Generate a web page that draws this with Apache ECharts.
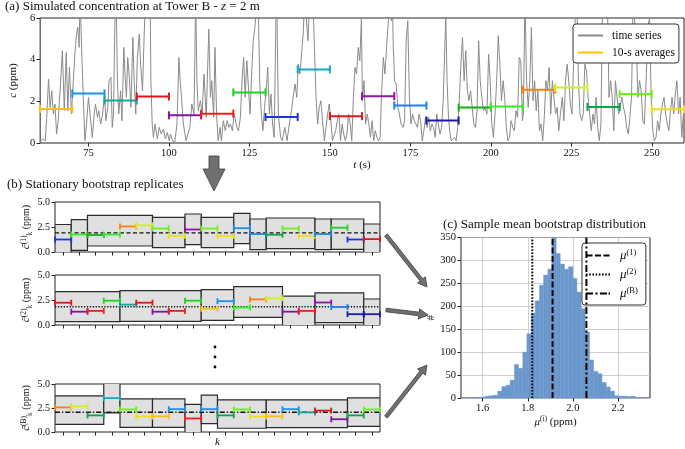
<!DOCTYPE html>
<html><head><meta charset="utf-8">
<script src="https://cdn.jsdelivr.net/npm/echarts@6/dist/echarts.min.js"></script>
<style>html,body{margin:0;padding:0;background:#fff}#c{width:685px;height:449px}</style>
</head><body><div id="c"></div>
<script>
// ---------- DATA ----------
const tsTime = [
60.0,60.8,61.6,62.1,62.6,63.1,63.6,64.1,64.6,65.1,
65.6,66.3,66.9,67.5,68.1,68.6,69.1,69.7,70.3,70.9,
71.3,71.7,72.1,72.4,73.0,73.4,73.9,74.4,75.0,75.6,
76.2,76.8,77.2,77.8,78.2,78.8,79.4,80.0,80.4,81.0,
81.4,82.0,82.4,82.8,83.2,83.6,84.0,84.4,85.0,85.4,
86.0,86.4,86.8,87.2,87.7,88.2,88.8,89.2,89.7,90.2,
90.8,91.2,91.8,92.2,92.7,93.2,93.7,94.2,94.4,94.8,
95.2,95.7,96.4,97.0,97.6,98.3,98.9,99.5,100.1,100.5,
101.1,101.8,102.5,103.1,103.5,103.9,104.5,105.3,105.9,106.5,
107.1,107.8,108.3,108.7,109.1,109.8,
110.3,110.9,111.6,112.1,112.4,112.9,113.3,113.9,114.3,114.8,
115.3,115.9,116.3,116.9,117.5,118.1,118.6,119.1,119.7,120.3,
121.1,121.6,122.2,122.7,123.2,123.7,124.2,124.7,125.2,125.7,
126.2,126.7,127.2,127.7,128.2,128.7,129.2,129.7,130.2,130.7,
131.2,131.7,132.2,132.7,133.2,133.5,134.0,134.7,135.2,136.0,
136.7,137.4,138.2,138.7,139.2,139.7,140.2,140.7,141.2,141.7,
142.2,142.7,143.2,143.7,144.2,144.7,145.2,145.7,146.2,146.7,
147.2,147.7,148.3,148.8,149.3,149.8,150.3,150.8,151.3,151.8,
152.3,152.8,153.3,153.8,154.3,154.8,155.3,155.8,156.3,156.8,
157.3,157.8,158.3,158.8,159.3,159.8,
160.1,160.6,161.1,161.6,162.1,162.6,163.1,163.6,164.1,164.6,
165.1,165.6,166.1,166.6,167.1,167.6,168.1,168.6,169.1,169.4,
169.7,170.1,170.6,171.1,171.6,172.1,172.7,173.2,173.7,174.2,
174.7,175.2,175.7,176.2,176.7,177.2,177.7,178.2,178.7,179.2,
179.7,180.2,180.7,181.2,181.7,182.2,182.7,183.2,183.7,184.2,
184.7,185.2,185.7,186.0,186.4,186.8,187.2,187.7,188.2,188.7,
189.2,189.7,190.2,190.7,191.2,191.7,192.2,192.7,193.2,193.7,
194.2,194.7,195.2,195.7,196.2,196.7,197.2,197.7,198.2,198.8,
199.3,199.8,200.3,200.8,201.3,201.8,202.3,202.8,203.3,203.8,
204.3,204.8,205.3,205.8,206.3,206.8,207.3,207.8,208.3,208.8,
209.3,209.8,
210.1,210.6,211.1,211.6,212.1,212.6,213.1,213.6,214.1,214.6,
215.1,215.6,216.1,216.6,217.1,217.6,218.1,218.6,219.1,219.6,
220.1,220.6,221.1,221.6,222.2,222.7,223.2,223.7,224.2,224.7,
225.2,225.7,226.2,226.7,227.2,227.7,228.2,228.7,229.2,229.7,
230.2,230.7,231.2,231.7,232.2,232.7,233.2,233.7,234.2,234.7,
235.2,235.7,236.2,236.7,237.2,237.7,238.2,238.7,239.2,239.7,
240.2,240.7,241.2,241.7,242.2,242.7,243.2,243.7,244.2,244.7,
245.2,245.7,246.2,246.7,247.2,247.7,248.3,248.8,249.3,249.8,
250.3,250.8,251.3,251.8,252.3,252.8,253.3,253.8,254.3,254.8,
255.3,255.8,256.3,256.8,257.3,257.8,258.3,258.8,259.3,259.8
];
const tsConc = [
0.05,0.2,0.11,1.39,3.07,1.71,2.51,1.39,1.87,0.43,
1.07,2.75,4.43,1.55,4.35,1.55,3.63,1.39,2.99,4.51,
5.23,5.55,4.59,7.0,3.95,2.19,0.11,0.91,2.19,1.23,
0.27,1.39,1.87,1.23,1.55,0.91,1.39,2.35,1.07,1.71,
2.99,3.15,0.75,1.39,5.71,7.0,2.99,1.39,2.51,1.07,
4.59,3.15,2.19,4.11,3.15,1.71,5.07,2.99,1.39,4.11,
5.23,3.79,2.51,4.59,7.0,7.0,7.0,6.5,2.99,0.91,
0.27,0.91,0.19,0.75,0.43,0.67,0.19,0.51,0.11,0.43,
0.11,0.03,0.91,4.11,2.99,2.19,0.91,0.11,0.11,0.75,
1.87,1.39,7.0,2.99,1.55,2.03,
1.39,3.31,1.23,3.95,5.47,2.19,2.99,1.23,4.59,1.39,
0.11,0.75,0.11,1.07,0.59,1.07,0.75,0.91,0.59,1.39,
0.75,0.59,1.23,2.99,4.11,2.19,3.95,2.67,1.39,3.31,
4.91,5.55,6.5,7.0,2.99,1.39,0.59,1.71,2.51,3.63,
1.39,2.35,0.91,0.27,5.71,7.0,1.39,0.27,0.11,0.75,
0.11,0.91,1.71,2.35,2.83,2.19,3.79,3.31,4.27,5.23,
7.0,7.0,4.91,7.0,7.0,7.0,4.59,2.19,0.91,1.71,
2.03,1.07,0.11,0.11,1.39,1.87,1.07,0.11,0.11,0.59,
1.07,1.39,0.11,0.91,0.43,0.11,0.43,1.39,0.91,0.11,
2.19,3.63,3.31,4.59,3.95,6.0,
2.03,2.99,0.91,1.39,0.91,0.27,1.07,0.11,0.59,0.27,
0.11,0.27,2.51,4.11,3.31,4.59,5.71,7.0,5.87,7.0,
4.59,2.99,2.83,1.71,1.39,0.91,0.75,1.07,4.91,5.87,
2.19,0.91,1.39,1.07,0.91,0.75,1.39,1.07,0.11,0.59,
1.23,0.75,1.23,0.59,0.91,0.75,0.27,1.39,0.91,0.43,
0.75,2.03,4.59,6.03,2.99,1.39,0.59,0.11,0.11,0.27,
0.11,0.75,2.03,3.79,5.07,2.99,4.43,2.51,2.03,2.51,
1.71,0.91,0.75,1.55,4.91,2.99,2.19,1.55,1.71,1.39,
4.27,2.99,0.91,0.27,1.39,2.99,5.15,3.79,2.03,2.99,
2.19,0.75,0.11,0.27,1.07,0.75,0.59,1.55,1.23,4.11,
3.95,1.07,
1.39,7.0,2.99,1.71,2.99,5.55,2.03,2.99,1.55,2.51,
0.59,0.91,0.11,1.23,2.99,2.51,3.63,1.39,2.99,2.19,
1.39,1.71,0.59,1.39,2.19,1.07,2.99,3.79,2.99,1.87,
1.39,3.79,6.03,7.0,2.99,1.39,1.07,1.39,3.79,3.47,
2.19,1.39,0.59,1.39,0.91,2.19,0.75,0.11,0.91,7.0,
7.0,6.03,7.0,2.19,2.99,2.19,0.59,2.99,2.19,1.39,
1.39,2.19,1.71,1.39,0.75,0.43,1.23,2.19,7.0,7.0,
4.59,2.19,2.99,2.51,1.07,0.91,3.31,5.55,6.03,2.19,
0.59,0.11,0.27,1.07,0.59,1.39,1.87,2.19,1.39,0.91,
0.59,1.55,2.19,1.39,2.35,2.99,1.39,2.19,0.27,1.39
];
const timeTicks = [75,100,125,150,175,200,225,250];

// 10-s window averages
const winStart = [60,70,80,90,100,110,120,130,140,150,160,170,180,190,200,210,220,230,240,250];
const winLength = 10;
const winMean = [1.63,2.38,2.04,2.23,1.33,1.41,2.43,1.25,3.53,1.29,2.25,1.80,1.08,1.70,1.75,2.56,2.67,1.73,2.35,1.62];

// bootstrap replicates: which window fills each of the 20 slots
const rep1Windows = [7,14,13,14,15,16,18,19,10,18,19,1,11,17,18,19,11,6,7,9];
const rep2Windows = [3,4,5,6,2,3,4,5,6,0,1,14,15,16,4,5,10,11,12,12];
const repBWindows = [15,16,17,8,18,19,0,1,5,1,17,18,19,0,1,2,3,4,17,18];
// blocks: [first slot, end slot, low, high]
const rep1Blocks = [[0,1,-0.28,2.75],[1,2,0.17,3.23],[2,6,0.6,3.67],[6,8,0.43,3.47],[8,9,0.73,3.8],[9,11,0.43,3.47],[11,12,0.83,3.87],[12,13,0.23,3.3],[13,16,0.33,3.4],[16,17,0.23,3.3],[17,19,0.27,3.3],[19,20,-0.23,2.8]];
const rep2Blocks = [[0,4,0.33,3.34],[4,9,0.36,3.44],[9,11,0.46,3.54],[11,14,0.76,3.84],[14,16,-0.16,2.88],[16,19,0.23,3.21],[19,20,-0.45,2.6]];
const repBBlocks = [[0,3,0.8,3.77],[3,4,2.0,5.06],[4,6,0.48,3.45],[6,8,0.48,3.45],[8,9,-0.1,2.87],[9,10,0.87,3.84],[10,13,0.39,3.35],[13,18,0.45,3.35],[18,20,0.58,3.55]];
const slotTicks = [0.5,1.5,2.5,3.5,4.5,5.5,6.5,7.5,8.5,9.5,10.5,11.5,12.5,13.5,14.5,15.5,16.5,17.5,18.5,19.5];
const repMeans = [1.91, 1.82, 2.06];

// histogram of bootstrap means
const histBinLo = [
1.537,1.556,1.574,1.593,1.611,1.630,1.648,1.667,1.685,1.704,
1.722,1.741,1.759,1.778,1.796,1.815,1.833,1.852,1.870,1.889,
1.907,1.926,1.944,1.963,1.981,2.000,2.018,2.037,2.055,2.074,
2.092,2.111,2.129,2.148,2.166,2.185,2.203,2.222,2.240,2.259,
2.277,2.296];
const histCount = [
1,1,0,2,4,5,6,15,25,28,
39,73,65,100,140,185,212,246,268,281,
350,315,292,281,286,261,231,195,144,83,
58,53,34,24,15,5,4,4,3,4,
1,1];
const histTicks = [1.6,1.8,2.0,2.2];

// ---------- STYLES ----------
const winColors = ['#f9c01c','#1f8fe3','#13a89b','#e3151c','#80169f','#f21e1e','#22d022','#1d36d6','#16a8c4','#d81b1b',
                   '#8c16a6','#1f7ff0','#1a1aa6','#16ae18','#33ee1f','#ff7f10','#d6f01e','#13a04b','#6ff01c','#ebdf1c'];
const FONT = "'Liberation Serif','DejaVu Serif',serif";
const INK = '#222';

const seriesTS = tsTime.map((t,i)=>[t, tsConc[i]]);
const winData = winStart.map((s,i)=>[s, s+winLength, winMean[i], i]);
const repData = wins => wins.map((w,k)=>[k, k+1, winMean[w], w]);
const histData = histBinLo.map((lo,i)=>[lo, i<histBinLo.length-1 ? histBinLo[i+1] : lo+(lo-histBinLo[i-1]), histCount[i]]);

function segRender(capHalf, lw){
  return function(params, api){
    const v = api.value(2), ci = api.value(3);
    const p0 = api.coord([api.value(0), v]), p1 = api.coord([api.value(1), v]);
    const st = {stroke: winColors[ci], lineWidth: lw, lineCap:'butt'};
    return {type:'group', children:[
      {type:'line', shape:{x1:p0[0],y1:p0[1],x2:p1[0],y2:p1[1]}, style:st},
      {type:'line', shape:{x1:p0[0],y1:p0[1]-capHalf,x2:p0[0],y2:p0[1]+capHalf}, style:st},
      {type:'line', shape:{x1:p1[0],y1:p1[1]-capHalf,x2:p1[0],y2:p1[1]+capHalf}, style:st}
    ]};
  };
}
function boxRender(params, api){
  const a = api.coord([api.value(0), api.value(3)]);
  const b = api.coord([api.value(1), api.value(2)]);
  return {type:'rect', shape:{x:a[0], y:a[1], width:b[0]-a[0], height:b[1]-a[1]},
          style:{fill:'#e0e0e0', stroke:'#2a2a2a', lineWidth:1.2}};
}
function histRender(params, api){
  const a = api.coord([api.value(0), api.value(2)]);
  const b = api.coord([api.value(1), 0]);
  return {type:'rect', shape:{x:a[0], y:a[1], width:b[0]-a[0], height:b[1]-a[1]},
          style:{fill:'#6a97cc', stroke:'#6a97cc', lineWidth:0.4}};
}

const tick = (vals)=>({show:true, inside:false, length:3.5, lineStyle:{color:INK, width:1}, customValues: vals});
const lab = {fontFamily:FONT, fontSize:10.5, color:'#111'};
const gridBase = {show:true, borderColor:INK, borderWidth:1, backgroundColor:'transparent'};
const supStyle = {fontFamily:FONT, fontSize:7.5, color:'#111', verticalAlign:'top', lineHeight:14};
const subStyle = {fontFamily:FONT, fontSize:7.5, color:'#111', verticalAlign:'bottom', lineHeight:14};
const itStyle = {fontFamily:FONT, fontSize:11, fontStyle:'italic', color:'#111', lineHeight:14};

function bXAxis(gi, withName){
  const ax = {type:'value', gridIndex:gi, min:0, max:20, axisLine:{show:false},
    axisTick: tick(slotTicks), axisLabel:{show:false}, splitLine:{show:false}};
  if (withName){ ax.name='k'; ax.nameLocation='middle'; ax.nameGap=5;
    ax.nameTextStyle={fontFamily:FONT, fontSize:11, fontStyle:'italic', color:'#111', verticalAlign:'top'}; }
  return ax;
}
function bYAxis(gi, sup){
  return {type:'value', gridIndex:gi, min:0, max:5, interval:2.5, axisLine:{show:false},
    axisTick:{show:true, length:3.5, lineStyle:{color:INK}},
    axisLabel:Object.assign({}, lab, {fontSize:10, margin:5, formatter:v=>v.toFixed(1)}), splitLine:{show:false},
    name:'{i|ĉ}{sup|'+sup+'}{sub|k} (ppm)', nameLocation:'middle', nameRotate:90, nameGap:17,
    nameTextStyle:{fontFamily:FONT, fontSize:10, color:'#111', lineHeight:14,
      rich:{i:Object.assign({}, itStyle,{fontSize:11}), sup:supStyle, sub:subStyle}}};
}

function arrowPts(x0,y0,x1,y1,sw,hw,hl){
  const dx=x1-x0, dy=y1-y0, L=Math.hypot(dx,dy), ux=dx/L, uy=dy/L, nx=-uy, ny=ux;
  const bx=x1-ux*hl, by=y1-uy*hl;
  return [[x0+nx*sw/2,y0+ny*sw/2],[bx+nx*sw/2,by+ny*sw/2],[bx+nx*hw/2,by+ny*hw/2],[x1,y1],
          [bx-nx*hw/2,by-ny*hw/2],[bx-nx*sw/2,by-ny*sw/2],[x0-nx*sw/2,y0-ny*sw/2]];
}
const arrowStyle = {fill:'#707070', stroke:'#3c3c3c', lineWidth:0.8};

// legend icons (dash patterns drawn as small filled bars, 24 x 2)
function barsPath(pairs){ return 'path://' + pairs.map(p=>'M'+p[0]+',0h'+(p[1]-p[0])+'v2h'+(p[0]-p[1])+'z').join(''); }
const iconDashed = barsPath([[0,6],[8.5,14.5],[17,23]]);
const iconDotted = barsPath([[0,1.6],[3.2,4.8],[6.4,8],[9.6,11.2],[12.8,14.4],[16,17.6],[19.2,20.8],[22.4,24]]);
const iconDashDot = barsPath([[0,7],[9.5,11.5],[14,21],[22.5,24]]);

const option = {
  animation:false,
  backgroundColor:'#fff',
  title:[
    {text:'(a) Simulated concentration at Tower B - {i|z} = 2 m', left:5, top:0, padding:0,
     textStyle:{fontFamily:FONT, fontSize:13, fontWeight:'normal', color:'#111',
       rich:{i:{fontFamily:FONT, fontSize:13, fontStyle:'italic', color:'#111'}}}},
    {text:'(b) Stationary bootstrap replicates', left:7, top:178, padding:0,
     textStyle:{fontFamily:FONT, fontSize:13, fontWeight:'normal', color:'#111'}},
    {text:'(c) Sample mean bootstrap distribution', left:443, top:218, padding:0,
     textStyle:{fontFamily:FONT, fontSize:13, fontWeight:'normal', color:'#111'}}
  ],
  grid:[
    Object.assign({left:21, top:18, width:663, height:125}, gridBase),
    Object.assign({left:55, top:202, width:325, height:50}, gridBase),
    Object.assign({left:55, top:275, width:325, height:50}, gridBase),
    Object.assign({left:55, top:384, width:325, height:51}, gridBase),
    Object.assign({left:461, top:237.5, width:189, height:160.5}, gridBase)
  ],
  xAxis:[
    {type:'value', gridIndex:0, min:60, max:260, axisLine:{show:false}, axisTick:tick(timeTicks),
     axisLabel:Object.assign({}, lab, {customValues:timeTicks, margin:5}), splitLine:{show:false},
     name:'{i|t} (s)', nameLocation:'middle', nameGap:15,
     nameTextStyle:{fontFamily:FONT, fontSize:11, color:'#111', verticalAlign:'top', rich:{i:itStyle}}},
    bXAxis(1,false), bXAxis(2,false), bXAxis(3,true),
    {type:'value', gridIndex:4, min:1.504, max:2.342, axisLine:{show:false}, axisTick:tick(histTicks),
     axisLabel:Object.assign({}, lab, {customValues:histTicks, margin:5, formatter:v=>v.toFixed(1)}),
     splitLine:{show:true, lineStyle:{color:'#c4c4c4', width:0.8}},
     name:'{i|μ}{sup|(i)} (ppm)', nameLocation:'middle', nameGap:17,
     nameTextStyle:{fontFamily:FONT, fontSize:11, color:'#111', verticalAlign:'top', lineHeight:14,
       rich:{i:itStyle, sup:supStyle}}}
  ],
  yAxis:[
    {type:'value', gridIndex:0, min:0, max:6, interval:2, axisLine:{show:false},
     axisTick:{show:true, length:3.5, lineStyle:{color:INK}},
     axisLabel:Object.assign({}, lab, {margin:5}), splitLine:{show:false},
     name:'{i|c} (ppm)', nameLocation:'middle', nameRotate:90, nameGap:8,
     nameTextStyle:{fontFamily:FONT, fontSize:11, color:'#111', rich:{i:itStyle}}},
    bYAxis(1,'(1)'), bYAxis(2,'(2)'), bYAxis(3,'(B)'),
    {type:'value', gridIndex:4, min:0, max:350, interval:50, axisLine:{show:false},
     axisTick:{show:true, length:3.5, lineStyle:{color:INK}},
     axisLabel:Object.assign({}, lab, {margin:5}),
     splitLine:{show:true, lineStyle:{color:'#c4c4c4', width:0.8}},
     name:'#', nameLocation:'middle', nameRotate:90, nameGap:18,
     nameTextStyle:{fontFamily:FONT, fontSize:11, color:'#111'}}
  ],
  legend:[
    {data:[{name:'time series', icon:'rect'},{name:'10-s averages', icon:'rect'}],
     orient:'vertical', left:573, top:24, itemWidth:25, itemHeight:2, itemGap:4, padding:[5,4,4,5],
     borderColor:'#333', borderWidth:1, borderRadius:3, backgroundColor:'#fff', selectedMode:false,
     textStyle:{fontFamily:FONT, fontSize:11.5, color:'#111', lineHeight:13, padding:[0,0,0,4]}},
    {data:[{name:'mu1', icon:iconDashed},{name:'mu2', icon:iconDotted},{name:'muB', icon:iconDashDot}],
     orient:'vertical', left:582, top:243, itemWidth:24, itemHeight:2, itemGap:5,
     padding:[5,8,5,4], borderColor:'#333', borderWidth:1, borderRadius:3, backgroundColor:'#fff', selectedMode:false,
     formatter:n=>({mu1:'{m|μ}{s|(1)}', mu2:'{m|μ}{s|(2)}', muB:'{m|μ}{s|(B)}'})[n],
     textStyle:{fontFamily:FONT, fontSize:12, color:'#111',
       rich:{m:{fontFamily:FONT, fontSize:13, fontStyle:'italic', color:'#111', lineHeight:15, padding:[0,0,0,5]},
             s:{fontFamily:FONT, fontSize:8.5, color:'#111', verticalAlign:'top', lineHeight:15}}}}
  ],
  series:[
    {type:'line', name:'time series', xAxisIndex:0, yAxisIndex:0, data:seriesTS, showSymbol:false, symbol:'none',
     clip:true, lineStyle:{color:'#8a8a8a', width:1}, itemStyle:{color:'#8a8a8a'}, z:1},
    {type:'custom', name:'10-s averages', xAxisIndex:0, yAxisIndex:0, data:winData, renderItem:segRender(4,2),
     itemStyle:{color:'#ffc107'}, z:3},
    {type:'custom', xAxisIndex:1, yAxisIndex:1, data:rep1Blocks, renderItem:boxRender, clip:true, z:1},
    {type:'custom', xAxisIndex:2, yAxisIndex:2, data:rep2Blocks, renderItem:boxRender, clip:true, z:1},
    {type:'custom', xAxisIndex:3, yAxisIndex:3, data:repBBlocks, renderItem:boxRender, clip:true, z:1},
    {type:'line', xAxisIndex:1, yAxisIndex:1, data:[[0,repMeans[0]],[20,repMeans[0]]], symbol:'none',
     lineStyle:{color:'#111', width:1.4, type:[4,2.5]}, z:2},
    {type:'line', xAxisIndex:2, yAxisIndex:2, data:[[0,repMeans[1]],[20,repMeans[1]]], symbol:'none',
     lineStyle:{color:'#111', width:1.4, type:[1.3,1.6]}, z:2},
    {type:'line', xAxisIndex:3, yAxisIndex:3, data:[[0,repMeans[2]],[20,repMeans[2]]], symbol:'none',
     lineStyle:{color:'#111', width:1.4, type:[5,2,1.3,2]}, z:2},
    {type:'custom', xAxisIndex:1, yAxisIndex:1, data:repData(rep1Windows), renderItem:segRender(3,1.8), z:3},
    {type:'custom', xAxisIndex:2, yAxisIndex:2, data:repData(rep2Windows), renderItem:segRender(3,1.8), z:3},
    {type:'custom', xAxisIndex:3, yAxisIndex:3, data:repData(repBWindows), renderItem:segRender(3,1.8), z:3},
    {type:'custom', xAxisIndex:4, yAxisIndex:4, data:histData, renderItem:histRender, z:2},
    {type:'line', name:'mu1', xAxisIndex:4, yAxisIndex:4, data:[[repMeans[0],0],[repMeans[0],350]], symbol:'none',
     lineStyle:{color:'#000', width:2, type:[6,2.5]}, itemStyle:{color:'#000'}, z:4},
    {type:'line', name:'mu2', xAxisIndex:4, yAxisIndex:4, data:[[repMeans[1],0],[repMeans[1],350]], symbol:'none',
     lineStyle:{color:'#000', width:2, type:[1.6,1.6]}, itemStyle:{color:'#000'}, z:4},
    {type:'line', name:'muB', xAxisIndex:4, yAxisIndex:4, data:[[repMeans[2],0],[repMeans[2],350]], symbol:'none',
     lineStyle:{color:'#000', width:2, type:[7,2.5,2,2.5]}, itemStyle:{color:'#000'}, z:4}
  ],
  graphic:[
    {type:'polygon', shape:{points:arrowPts(214,156,214,191,10,22,22)}, style:arrowStyle},
    {type:'polygon', shape:{points:arrowPts(386,235,427,287,3.6,10,9)}, style:arrowStyle},
    {type:'polygon', shape:{points:arrowPts(386,310,428,315,3.6,10,9)}, style:arrowStyle},
    {type:'polygon', shape:{points:arrowPts(386,417,427,365,3.6,10,9)}, style:arrowStyle},
    {type:'circle', shape:{cx:215, cy:347, r:1.4}, style:{fill:'#000'}},
    {type:'circle', shape:{cx:215, cy:357, r:1.4}, style:{fill:'#000'}},
    {type:'circle', shape:{cx:215, cy:367, r:1.4}, style:{fill:'#000'}}
  ]
};
const chart = echarts.init(document.getElementById('c'));
chart.setOption(option);
</script></body></html>
